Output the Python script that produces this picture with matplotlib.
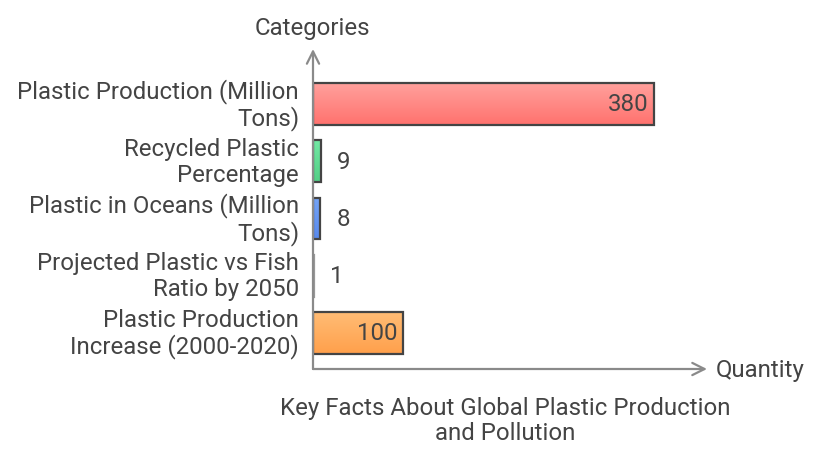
import matplotlib.pyplot as plt
import numpy as np
from matplotlib.colors import LinearSegmentedColormap

plt.rcParams['font.family'] = ['Roboto', 'DejaVu Sans']

categories = ['Plastic Production (Million\nTons)',
              'Recycled Plastic\nPercentage',
              'Plastic in Oceans (Million\nTons)',
              'Projected Plastic vs Fish\nRatio by 2050',
              'Plastic Production\nIncrease (2000-2020)']
values = [380, 9, 8, 1, 100]
# top / bottom colours of the bar gradients
top_colors = ['#ffa09c', '#72e8a4', '#74a4f7', '#c8c8c8', '#ffbc74']
bottom_colors = ['#ff726e', '#52cf86', '#5889ec', '#a0a0a0', '#ffa04c']
inside_label = [True, False, False, False, True]

text_col = '#444444'
axis_col = '#8a8a8a'
fs = 17.3

W, H = 828, 464
fig = plt.figure(figsize=(W / 100, H / 100), dpi=100)
x0, x1 = 313, 707
y_top, y_bot = 50, 370
ax = fig.add_axes([x0 / W, 1 - y_bot / H, (x1 - x0) / W, (y_bot - y_top) / H])
ax.set_xlim(0, (x1 - x0) / 0.897)
ax.set_ylim(4.63, -0.96)
for s in ax.spines.values():
    s.set_visible(False)
ax.set_xticks([])
ax.set_yticks(range(len(categories)))
ax.set_yticklabels(categories, fontsize=fs, color=text_col, ha='right', va='center', linespacing=1.15)
ax.tick_params(axis='y', length=0, pad=10)

bar_h = 0.73
for i, v in enumerate(values):
    cmap = LinearSegmentedColormap.from_list('g', [top_colors[i], bottom_colors[i]])
    grad = np.linspace(0, 1, 50).reshape(-1, 1)
    im = ax.imshow(grad, cmap=cmap, aspect='auto', interpolation='bicubic',
                   extent=(0, v, i + bar_h / 2, i - bar_h / 2), zorder=2)
    rect = ax.barh(i, v, height=bar_h, color='none', edgecolor='#444444' if v > 1 else '#999999',
                   linewidth=1.6, zorder=3)[0]
    im.set_clip_path(rect)
    if inside_label[i]:
        ax.text(v - 6, i, str(v), ha='right', va='center', fontsize=fs, color=text_col, zorder=4)
    else:
        ax.text(v + 18, i, str(v), ha='left', va='center', fontsize=fs, color=text_col, zorder=4)

# axes with open arrowheads
ax.annotate('', xy=(0, 0), xycoords='axes fraction', xytext=(0, 1), textcoords='axes fraction',
            arrowprops=dict(arrowstyle='<-', color=axis_col, lw=1.6, mutation_scale=22,
                            shrinkA=0, shrinkB=0), annotation_clip=False)
ax.annotate('', xy=(0, 0), xycoords='axes fraction', xytext=(1, 0), textcoords='axes fraction',
            arrowprops=dict(arrowstyle='<-', color=axis_col, lw=1.6, mutation_scale=22,
                            shrinkA=0, shrinkB=0), annotation_clip=False)
ax.set_xlim(ax.get_xlim())

fig.text(312 / W, 1 - 29 / H, 'Categories', ha='center', va='center', fontsize=fs, color=text_col)
fig.text(716 / W, 1 - 371 / H, 'Quantity', ha='left', va='center', fontsize=fs, color=text_col)
fig.text(505 / W, 1 - 421 / H, 'Key Facts About Global Plastic Production\nand Pollution',
         ha='center', va='center', fontsize=fs, color=text_col, linespacing=1.15)

fig.savefig('out.png', dpi=100)
